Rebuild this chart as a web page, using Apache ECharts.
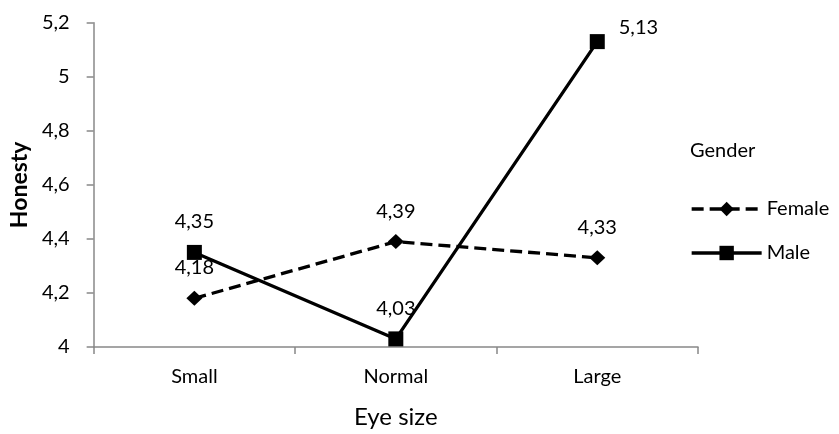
<!DOCTYPE html>
<html>
<head>
<meta charset="utf-8">
<script src="https://cdn.jsdelivr.net/npm/echarts@6/dist/echarts.min.js"></script>
<style>html,body{margin:0;padding:0;background:#fff}#c{width:839px;height:434px}</style>
</head>
<body>
<div id="c"></div>
<script>
const categories = ['Small', 'Normal', 'Large'];
const femaleValues = [4.18, 4.39, 4.33];
const maleValues = [4.35, 4.03, 5.13];
const yTicks = { min: 4, max: 5.2, interval: 0.2 };
const seriesNames = ['Female', 'Male'];
const legendTitle = 'Gender';
const xName = 'Eye size';
const yName = 'Honesty';

const FONT = 'Lato';
const fmt = v => String(+(+v).toFixed(2)).replace('.', ',');

const chart = echarts.init(document.getElementById('c'), null, { renderer: 'canvas' });
chart.setOption({
  animation: false,
  backgroundColor: '#fff',
  textStyle: { fontFamily: FONT },
  title: {
    text: legendTitle,
    left: 690, top: 141, padding: 0,
    textStyle: { fontFamily: FONT, fontSize: 20, fontWeight: 'normal', color: '#000' }
  },
  legend: {
    orient: 'vertical', left: 690, top: 199, padding: 0,
    itemWidth: 70, itemHeight: 18, itemGap: 24,
    lineStyle: { width: 3.3 },
    textStyle: { fontFamily: FONT, fontSize: 20, color: '#000' },
    data: seriesNames
  },
  grid: { left: 93, right: 141, top: 22.7, bottom: 82.5, containLabel: false },
  xAxis: {
    type: 'category', data: categories, boundaryGap: true,
    name: xName, nameLocation: 'middle', nameGap: 58,
    nameTextStyle: { fontFamily: FONT, fontSize: 24, color: '#000' },
    axisLine: { lineStyle: { color: '#888', width: 1.5 } },
    axisTick: { show: true, length: 7, lineStyle: { color: '#888', width: 1.5 } },
    axisLabel: { margin: 20, fontFamily: FONT, fontSize: 20, color: '#000' }
  },
  yAxis: {
    type: 'value', min: yTicks.min, max: yTicks.max, interval: yTicks.interval,
    name: yName, nameLocation: 'middle', nameGap: 60, nameRotate: 90,
    nameTextStyle: { fontFamily: FONT, fontSize: 23, fontWeight: 'bold', color: '#000' },
    axisLine: { show: true, lineStyle: { color: '#888', width: 1.5 } },
    axisTick: { show: true, length: 7, lineStyle: { color: '#888', width: 1.5 } },
    splitLine: { show: false },
    axisLabel: { margin: 24, fontFamily: FONT, fontSize: 20, color: '#000', formatter: v => fmt(v) }
  },
  series: [
    {
      name: seriesNames[0], type: 'line', data: femaleValues,
      symbol: 'diamond', symbolSize: [16, 15],
      lineStyle: { color: '#000', width: 3.3, type: [12, 6] },
      itemStyle: { color: '#000' },
      label: { show: true, position: 'top', distance: 13, fontFamily: FONT, fontSize: 20, color: '#000', formatter: p => fmt(p.value) }
    },
    {
      name: seriesNames[1], type: 'line',
      data: maleValues.map((v, i) => i === 2
        ? { value: v, label: { position: 'right', distance: 14, offset: [0, -14] } }
        : v),
      symbol: 'rect', symbolSize: 15,
      lineStyle: { color: '#000', width: 3.3 },
      itemStyle: { color: '#000' },
      label: { show: true, position: 'top', distance: 13, fontFamily: FONT, fontSize: 20, color: '#000', formatter: p => fmt(p.value) }
    }
  ]
});
</script>
</body>
</html>
